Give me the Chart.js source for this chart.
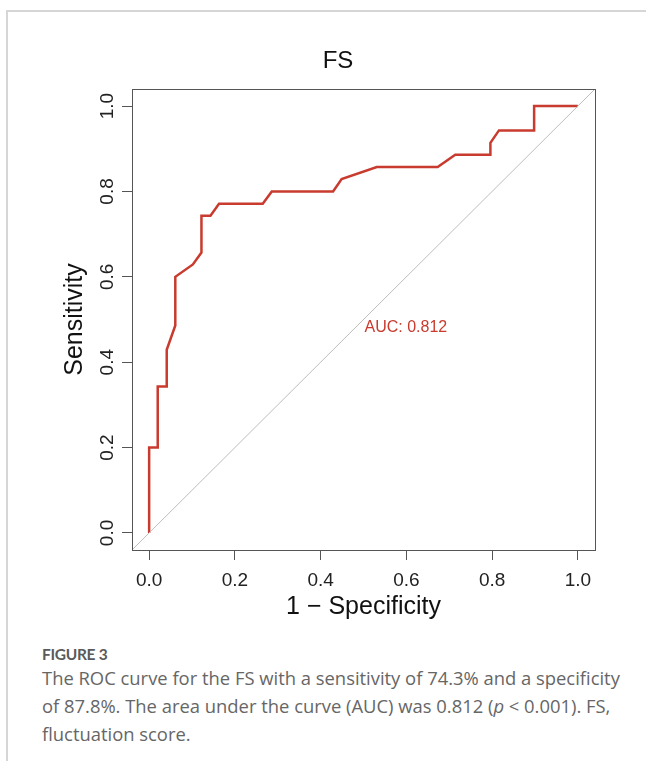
<!DOCTYPE html>
<html>
<head>
<meta charset="utf-8">
<script src="https://cdn.jsdelivr.net/npm/chart.js@4.4.1/dist/chart.umd.min.js"></script>
<style>
  body { margin: 0; background: #fff; }
  #page { position: relative; width: 646px; height: 761px; overflow: hidden; }
  #frame { position: absolute; left: 6px; top: 10px; width: 700px; height: 800px;
           border-top: 2px solid #d6d6d6; border-left: 2px solid #d6d6d6; }
  #chartBox { position: absolute; left: 0; top: 0; width: 646px; height: 625px; }
  #caption { position: absolute; left: 42px; top: 644px; width: 610px;
             font-family: "Open Sans", sans-serif; color: #666; white-space: nowrap; }
  .fig { font-family: Lato, "Open Sans", sans-serif; font-size: 15.5px; font-weight: 700;
         line-height: 20px; color: #5a5a5a; letter-spacing: -0.3px; }
  .txt { font-size: 18.4px; line-height: 28px; }
</style>
</head>
<body>
<div id="page">
  <div id="frame"></div>
  <div id="chartBox"><canvas id="roc" width="646" height="625"></canvas></div>
  <div id="caption">
    <div class="fig">FIGURE 3</div>
    <div class="txt">The ROC curve for the FS with a sensitivity of 74.3% and a specificity<br>of 87.8%. The area under the curve (AUC) was 0.812 (<i>p</i> &lt; 0.001). FS,<br>fluctuation score.</div>
  </div>
</div>
<script>
// ROC curve points (x = 1 - specificity, y = sensitivity)
const fpr = [0, 0, 0.020, 0.020, 0.041, 0.041, 0.061, 0.061, 0.102, 0.122, 0.122, 0.143, 0.163,
             0.265, 0.286, 0.429, 0.449, 0.531, 0.673, 0.714, 0.796, 0.796, 0.816, 0.898, 0.898, 1.0];
const tpr = [0, 0.200, 0.200, 0.343, 0.343, 0.429, 0.486, 0.600, 0.629, 0.657, 0.743, 0.743, 0.771,
             0.771, 0.800, 0.800, 0.829, 0.857, 0.857, 0.886, 0.886, 0.914, 0.943, 0.943, 1.0, 1.0];

// chance line, runs corner to corner of the plot region
const refX = [-0.04, 1.04];
const refY = [-0.04, 1.04];

const xTickVals = [0, 0.2, 0.4, 0.6, 0.8, 1.0];
const yTickVals = [0, 0.2, 0.4, 0.6, 0.8, 1.0];

const chartTitle = "FS";
const xTitle = "1 \u2212 Specificity";
const yTitle = "Sensitivity";
const aucLabel = "AUC: 0.812";
const aucPos = [0.5, 0.5];

const red = "#c83b2e";
const axisCol = "#555";

Chart.defaults.font.family = "'Liberation Sans', Arial, sans-serif";

const rocData = fpr.map((x, i) => ({ x: x, y: tpr[i] }));
const refData = refX.map((x, i) => ({ x: x, y: refY[i] }));

const boxPlugin = {
    id: "box",
    afterDraw(chart) {
        const { ctx, chartArea: a } = chart;
        ctx.save();
        ctx.strokeStyle = axisCol;
        ctx.lineWidth = 1;
        ctx.strokeRect(Math.round(a.left) + 0.5, Math.round(a.top) + 0.5,
                       Math.round(a.right - a.left), Math.round(a.bottom - a.top));
        ctx.restore();
    }
};

const textPlugin = {
    id: "texts",
    afterDatasetsDraw(chart) {
        const { ctx, scales } = chart;
        ctx.save();
        // AUC label, left/top anchored at (0.5, 0.5) like pROC
        ctx.fillStyle = red;
        ctx.font = "16px 'Liberation Sans', Arial, sans-serif";
        ctx.textAlign = "left";
        ctx.textBaseline = "top";
        ctx.fillText(aucLabel, scales.x.getPixelForValue(aucPos[0]) + 1, scales.y.getPixelForValue(aucPos[1]));
        // main title
        ctx.fillStyle = "#111";
        ctx.font = "24px 'Liberation Sans', Arial, sans-serif";
        ctx.textAlign = "center";
        ctx.textBaseline = "middle";
        ctx.fillText(chartTitle, 338, 61);
        ctx.restore();
    }
};

new Chart(document.getElementById("roc"), {
    type: "scatter",
    data: {
        datasets: [
            {
                label: "chance",
                data: refData,
                showLine: true,
                borderColor: "#bdbdbd",
                borderWidth: 1,
                pointRadius: 0,
                tension: 0
            },
            {
                label: "ROC",
                data: rocData,
                showLine: true,
                borderColor: red,
                borderWidth: 2.5,
                pointRadius: 0,
                tension: 0
            }
        ]
    },
    options: {
        responsive: false,
        animation: false,
        devicePixelRatio: 1,
        layout: { padding: { left: 40, right: 51, top: 89, bottom: 0 } },
        plugins: {
            legend: { display: false },
            tooltip: { enabled: false },
            title: { display: false }
        },
        scales: {
            x: {
                type: "linear",
                position: "bottom",
                min: -0.04,
                max: 1.04,
                afterBuildTicks: s => { s.ticks = xTickVals.map(v => ({ value: v })); },
                afterFit: s => { s.height = 75; },
                ticks: {
                    callback: v => Number(v).toFixed(1),
                    font: { size: 19 },
                    color: "#222",
                    padding: 9,
                    maxRotation: 0,
                    autoSkip: false
                },
                grid: { drawOnChartArea: false, drawTicks: true, tickLength: 10, color: axisCol, lineWidth: 1 },
                border: { display: false },
                title: {
                    display: true,
                    text: xTitle,
                    font: { size: 25 },
                    color: "#111",
                    padding: { top: 0, bottom: 3 }
                }
            },
            y: {
                type: "linear",
                position: "left",
                min: -0.04,
                max: 1.04,
                afterBuildTicks: s => { s.ticks = yTickVals.map(v => ({ value: v })); },
                afterFit: s => { s.width = 92; },
                ticks: {
                    callback: v => Number(v).toFixed(1),
                    font: { size: 19 },
                    color: "#222",
                    padding: 1,
                    minRotation: 90,
                    maxRotation: 90,
                    crossAlign: "center",
                    autoSkip: false
                },
                grid: { drawOnChartArea: false, drawTicks: true, tickLength: 10, color: axisCol, lineWidth: 1 },
                border: { display: false },
                title: {
                    display: true,
                    text: yTitle,
                    font: { size: 25 },
                    color: "#111",
                    padding: { top: 20, bottom: 0 }
                }
            }
        }
    },
    plugins: [boxPlugin, textPlugin]
});
</script>
</body>
</html>
